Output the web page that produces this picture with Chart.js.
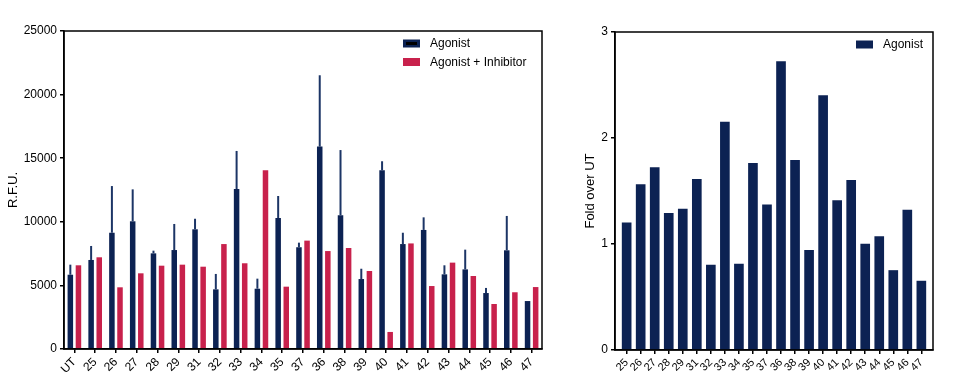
<!DOCTYPE html>
<html lang="en">
<head>
<meta charset="UTF-8" />
<title>Agonist / Inhibitor RFU</title>
<script src="https://cdn.jsdelivr.net/npm/chart.js@4"></script>
<style>
  body { margin: 0; background: #fff; }
  .box { position: absolute; top: 0; height: 390px; }
  #left { left: 0; width: 560px; }
  #right { left: 560px; width: 398px; }
</style>
</head>
<body>
<div class="box" id="left"><canvas id="rfuChart" width="560" height="390"></canvas></div>
<div class="box" id="right"><canvas id="foldChart" width="398" height="390"></canvas></div>

<script>
// left panel data
const rfuLabels = ['UT','25','26','27','28','29','31','32','33','34','35','37','36','38','39','40','41','42','43','44','45','46','47'];
const agonist   = [5840,7000,9140,10040,7520,7780,9410,4690,12580,4740,10300,8000,15910,10510,5500,14050,8250,9360,5870,6260,4400,7760,3770];
const agonistSD = [790,1100,3670,2510,210,2050,830,1210,2990,790,1730,360,5610,5130,810,710,890,990,710,1550,400,2700,0];
const inhibitor = [6580,7210,4850,5950,6550,6630,6470,8250,6740,14050,4900,8520,7700,7940,6130,1340,8300,4950,6790,5740,3540,4460,4870];
const rfuTicks  = [0,5000,10000,15000,20000,25000];

// right panel data
const foldLabels = ['25','26','27','28','29','31','32','33','34','35','37','36','38','39','40','41','42','43','44','45','46','47'];
const foldAgonist = [1.20,1.56,1.72,1.29,1.33,1.61,0.80,2.15,0.81,1.76,1.37,2.72,1.79,0.94,2.40,1.41,1.60,1.00,1.07,0.75,1.32,0.65];
const foldTicks = [0,1,2,3];

const NAVY = '#0c2253';
const RED = '#c8214c';
const FONT = "'Liberation Sans', Arial, Helvetica, sans-serif";

Chart.defaults.font.family = FONT;
Chart.defaults.font.size = 12;
Chart.defaults.color = '#000';
Chart.defaults.animation = false;

// box round the plot area
const frame = {
  id: 'frame',
  afterDraw(chart) {
    const a = chart.chartArea, ctx = chart.ctx;
    ctx.save();
    ctx.strokeStyle = '#000';
    ctx.lineWidth = 1.5;
    ctx.strokeRect(a.left, a.top, a.right - a.left, a.bottom - a.top);
    ctx.restore();
  }
};

// upper error bars on the agonist series
const errorBars = {
  id: 'errorBars',
  afterDatasetsDraw(chart, args, opts) {
    if (!opts.sd) return;
    const meta = chart.getDatasetMeta(0), y = chart.scales.y, ctx = chart.ctx;
    ctx.save();
    ctx.strokeStyle = '#1c3566';
    ctx.lineWidth = 2;
    meta.data.forEach((bar, i) => {
      const sd = opts.sd[i];
      if (!sd) return;
      const top = y.getPixelForValue(opts.values[i] + sd);
      ctx.beginPath();
      ctx.moveTo(bar.x, bar.y);
      ctx.lineTo(bar.x, top);
      ctx.stroke();
    });
    ctx.restore();
  }
};

// simple legend drawn inside the plot
const boxLegend = {
  id: 'boxLegend',
  afterDraw(chart, args, opts) {
    const ctx = chart.ctx;
    ctx.save();
    ctx.font = '12px ' + FONT;
    ctx.textBaseline = 'middle';
    opts.items.forEach((it, i) => {
      const y = opts.y + i * opts.gap;
      ctx.fillStyle = it.color;
      ctx.fillRect(opts.x, y - 4, 17, 8);
      if (it.mark) {
        ctx.fillStyle = '#000';
        ctx.fillRect(opts.x + 3, y - 1.5, 11, 3);
      }
      ctx.fillStyle = '#000';
      ctx.fillText(it.text, opts.x + 27, y + 0.5);
    });
    ctx.restore();
  }
};

function fixWidth(w) {
  return s => { s.width = w; s.paddingTop = 0; s.paddingBottom = 0; };
}
function fixHeight(h) {
  return s => { s.height = h; s.paddingLeft = 0; s.paddingRight = 0; };
}

new Chart(document.getElementById('rfuChart'), {
  type: 'bar',
  data: {
    labels: rfuLabels,
    datasets: [
      { label: 'Agonist', data: agonist, backgroundColor: NAVY },
      { label: 'Agonist + Inhibitor', data: inhibitor, backgroundColor: RED }
    ]
  },
  options: {
    responsive: false,
    categoryPercentage: 0.78,
    barPercentage: 0.68,
    layout: { padding: { left: 0, top: 31, right: 18, bottom: 0 } },
    plugins: {
      legend: { display: false },
      tooltip: { enabled: false },
      errorBars: { values: agonist, sd: agonistSD },
      boxLegend: {
        x: 403, y: 43.5, gap: 18.5,
        items: [
          { text: 'Agonist', color: NAVY, mark: true },
          { text: 'Agonist + Inhibitor', color: RED }
        ]
      }
    },
    scales: {
      x: {
        grid: { display: true, drawOnChartArea: false, offset: false, tickLength: 4, color: '#000', lineWidth: 1.5 },
        border: { display: true, color: '#000', width: 1.5 },
        ticks: { autoSkip: false, maxRotation: 45, minRotation: 45, padding: 2, font: { size: 12 } },
        afterFit: fixHeight(41)
      },
      y: {
        min: 0, max: 25000,
        afterBuildTicks: s => { s.ticks = rfuTicks.map(v => ({ value: v })); },
        grid: { display: true, drawOnChartArea: false, tickLength: 4, color: '#000', lineWidth: 1.5 },
        border: { display: true, color: '#000', width: 1.5 },
        ticks: { padding: 3, font: { size: 12 }, callback: v => String(v) },
        title: { display: true, text: 'R.F.U.', font: { size: 13 }, padding: { top: 6, bottom: 0 } },
        afterFit: fixWidth(64)
      }
    }
  },
  plugins: [frame, errorBars, boxLegend]
});

new Chart(document.getElementById('foldChart'), {
  type: 'bar',
  data: {
    datasets: [
      { label: 'Agonist', data: foldAgonist.map((v, i) => ({ x: i, y: v })), backgroundColor: NAVY, barThickness: 9 }
    ]
  },
  options: {
    responsive: false,
    layout: { padding: { left: 0, top: 32, right: 25, bottom: 0 } },
    plugins: {
      legend: { display: false },
      tooltip: { enabled: false },
      boxLegend: {
        x: 296, y: 44.5, gap: 18,
        items: [{ text: 'Agonist', color: NAVY }]
      }
    },
    scales: {
      x: {
        type: 'linear',
        offset: false,
        min: -0.83, max: foldLabels.length - 0.17,
        afterBuildTicks: s => { s.ticks = foldLabels.map((_, i) => ({ value: i })); },
        grid: { display: true, drawOnChartArea: false, offset: false, tickLength: 4, color: '#000', lineWidth: 1.5 },
        border: { display: true, color: '#000', width: 1.5 },
        ticks: { autoSkip: false, maxRotation: 45, minRotation: 45, padding: 2, font: { size: 11 },
                 callback: v => foldLabels[v] },
        afterFit: fixHeight(40)
      },
      y: {
        min: 0, max: 3,
        afterBuildTicks: s => { s.ticks = foldTicks.map(v => ({ value: v })); },
        grid: { display: true, drawOnChartArea: false, tickLength: 4, color: '#000', lineWidth: 1.5 },
        border: { display: true, color: '#000', width: 1.5 },
        ticks: { padding: 3, font: { size: 12 } },
        title: { display: true, text: 'Fold over UT', font: { size: 13 }, padding: { top: 23, bottom: 0 } },
        afterFit: fixWidth(55)
      }
    }
  },
  plugins: [frame, boxLegend]
});
</script>
</body>
</html>
